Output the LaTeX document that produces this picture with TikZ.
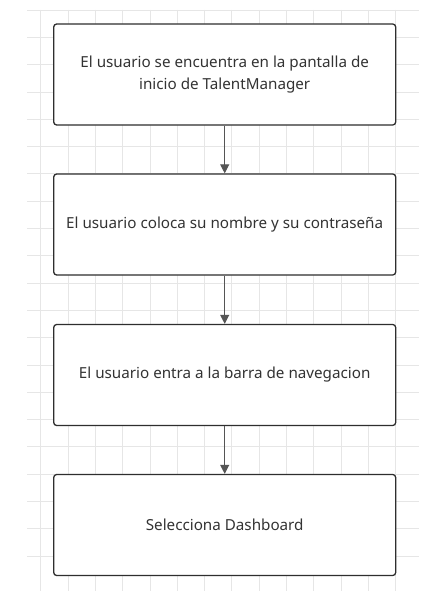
\documentclass[tikz,border=0pt]{standalone}
\usepackage{fontspec}
\setmainfont{Noto Sans}
\usetikzlibrary{arrows.meta}
\definecolor{gridc}{HTML}{E6E6E6}
\definecolor{boxc}{HTML}{2E2E2E}
\definecolor{txtc}{HTML}{333333}
\definecolor{arrc}{HTML}{555555}
\tikzset{
  stepbox/.style={draw=boxc, line width=1.3pt, rounded corners=3pt, fill=white,
    minimum width=342pt, minimum height=101pt, inner sep=0pt,
    text=txtc, align=center, font=\fontsize{15.2}{22}\selectfont},
  flow/.style={draw=arrc, line width=1pt, -{Triangle[length=9pt,width=9pt]}}
}
\begin{document}
\begin{tikzpicture}[x=1pt,y=-1pt]
\useasboundingbox (0,0) rectangle (437,602);
\fill[white] (0,0) rectangle (437,602);
\foreach \i in {0,...,20} {
  \draw[gridc, line width=0.8pt] (27,10+27.3*\i) -- (419,10+27.3*\i);
}
\foreach \i in {0,...,13} {
  \draw[gridc, line width=0.8pt] (40.7+27.3*\i,10) -- (40.7+27.3*\i,591);
}
\node[stepbox] (a) at (224.7,74.5) {El usuario se encuentra en la pantalla de\\inicio de TalentManager};
\node[stepbox] (b) at (224.7,224.5) {El usuario coloca su nombre y su contraseña};
\node[stepbox] (c) at (224.7,375) {El usuario entra a la barra de navegacion};
\node[stepbox] (d) at (224.7,525) {Selecciona Dashboard};
\draw[flow] (a) -- (b);
\draw[flow] (b) -- (c);
\draw[flow] (c) -- (d);
\end{tikzpicture}
\end{document}
